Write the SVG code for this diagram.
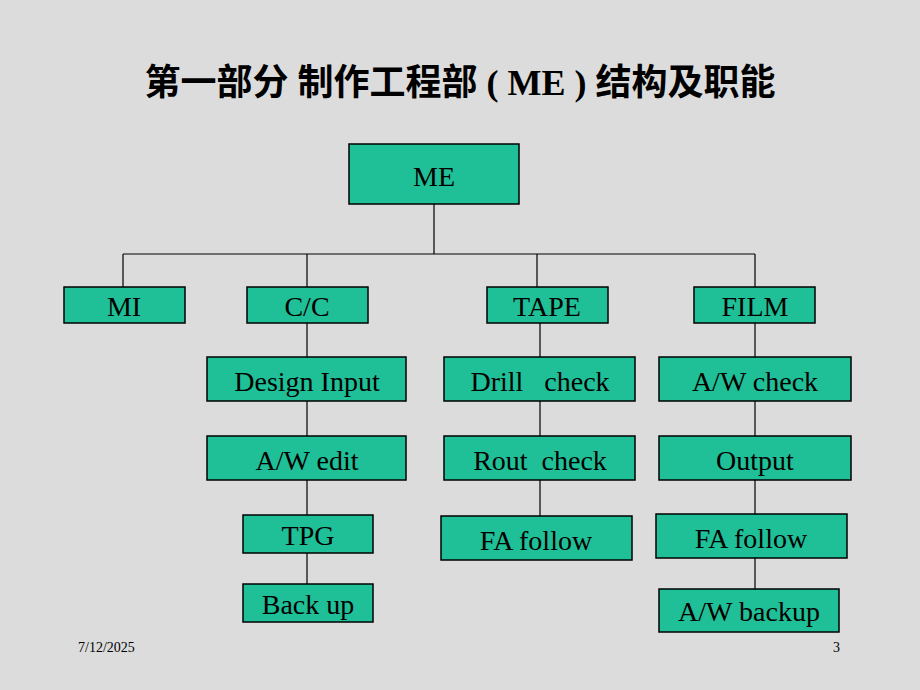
<svg xmlns="http://www.w3.org/2000/svg" width="920" height="690" viewBox="0 0 920 690">
<style>
.b{fill:#1fbf97;stroke:#000;stroke-width:1.5}
.t{font-family:"Liberation Serif",serif;font-size:28px;text-anchor:middle;fill:#000}
.c{stroke:#000;stroke-width:1.2;fill:none}
.s{font-family:"Liberation Serif",serif;font-size:14px;fill:#000}
</style>
<rect width="920" height="690" fill="#dcdcdc"/>
<text x="460" y="95" font-family="Liberation Serif,Noto Sans CJK SC,serif" font-size="36" font-weight="bold" text-anchor="middle">第一部分  制作工程部 ( ME ) 结构及职能</text>
<g id="connectors" class="c">
<path d="M434 204V254M123 254H755M123 254V287M307 254V287M537 254V287M755 254V287"/>
<path d="M307 323V357M307 401V436M307 480V515M307 553V584"/>
<path d="M540 323V357M540 401V436M540 480V516"/>
<path d="M755 323V357M755 401V436M755 480V514M755 558V589"/>
</g>
<g id="ME"><rect class="b" x="349" y="144" width="170" height="60"/><text class="t" x="434" y="186">ME</text></g>
<g id="MI"><rect class="b" x="64" y="287" width="121" height="36"/><text class="t" x="124" y="316">MI</text></g>
<g id="CC"><rect class="b" x="247" y="287" width="121" height="36"/><text class="t" x="307" y="316">C/C</text></g>
<g id="TAPE"><rect class="b" x="487" y="287" width="121" height="36"/><text class="t" x="547" y="316">TAPE</text></g>
<g id="FILM"><rect class="b" x="694" y="287" width="121" height="36"/><text class="t" x="755" y="316">FILM</text></g>
<g id="DI"><rect class="b" x="207" y="357" width="199" height="44"/><text class="t" x="307" y="391">Design Input</text></g>
<g id="AWE"><rect class="b" x="207" y="436" width="199" height="44"/><text class="t" x="307" y="470">A/W edit</text></g>
<g id="TPG"><rect class="b" x="243" y="515" width="130" height="38"/><text class="t" x="308" y="545">TPG</text></g>
<g id="BU"><rect class="b" x="243" y="584" width="130" height="38"/><text class="t" x="308" y="614">Back up</text></g>
<g id="DC"><rect class="b" x="444" y="357" width="191" height="44"/><text class="t" x="540" y="391" xml:space="preserve">Drill   check</text></g>
<g id="RC"><rect class="b" x="444" y="436" width="191" height="44"/><text class="t" x="540" y="470" xml:space="preserve">Rout  check</text></g>
<g id="FA1"><rect class="b" x="441" y="516" width="191" height="44"/><text class="t" x="536" y="550">FA follow</text></g>
<g id="AWC"><rect class="b" x="659" y="357" width="192" height="44"/><text class="t" x="755" y="391">A/W check</text></g>
<g id="OUT"><rect class="b" x="659" y="436" width="192" height="44"/><text class="t" x="755" y="470">Output</text></g>
<g id="FA2"><rect class="b" x="656" y="514" width="191" height="44"/><text class="t" x="751" y="548">FA follow</text></g>
<g id="AWB"><rect class="b" x="659" y="589" width="180" height="43"/><text class="t" x="749" y="621">A/W backup</text></g>
<text class="s" x="78" y="652">7/12/2025</text>
<text class="s" x="833" y="652">3</text>
</svg>
